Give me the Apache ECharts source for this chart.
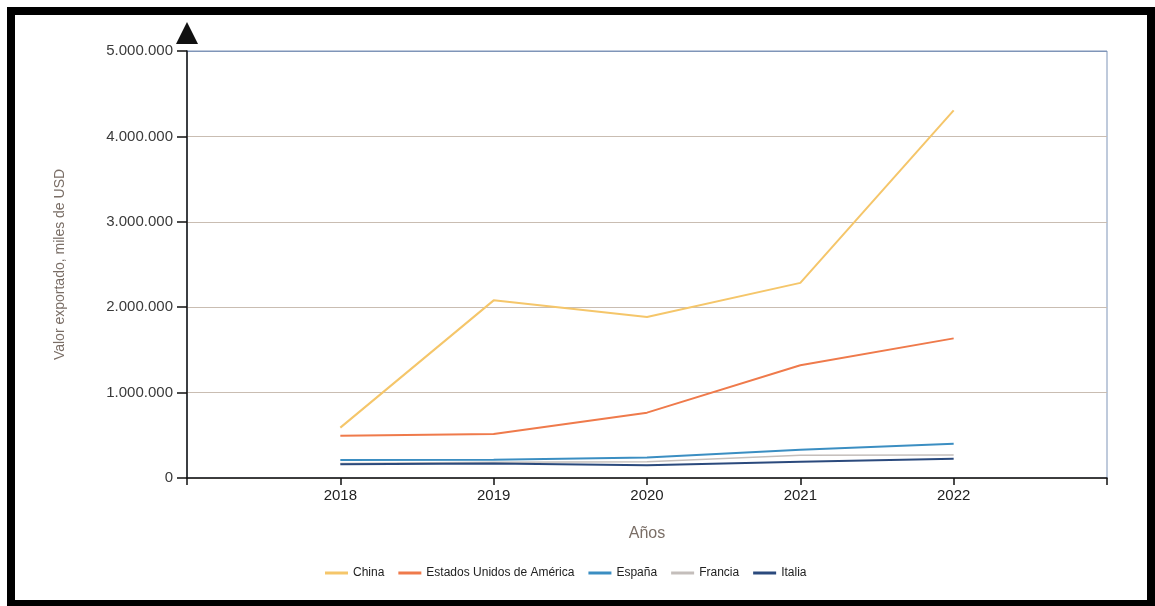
<!DOCTYPE html>
<html>
<head>
<meta charset="utf-8">
<script src="https://cdn.jsdelivr.net/npm/echarts@6/dist/echarts.min.js"></script>
<style>
html,body{margin:0;padding:0;background:#fff;}
#chart{width:1155px;height:606px;}
</style>
</head>
<body>
<div id="chart"></div>
<script>
const years = [2018, 2019, 2020, 2021, 2022];
const seriesNames = ['China', 'Estados Unidos de América', 'España', 'Francia', 'Italia'];
const china   = [590000, 2080000, 1885000, 2285000, 4305000];
const usa     = [495000, 515000, 765000, 1320000, 1635000];
const espana  = [210000, 215000, 240000, 330000, 400000];
const francia = [170000, 185000, 190000, 265000, 270000];
const italia  = [160000, 170000, 150000, 190000, 225000];
const yTicks = [0, 1000000, 2000000, 3000000, 4000000, 5000000];

const colors = ['#f5c66a', '#ef7a4b', '#3b8ec2', '#c4bebb', '#2b4a7d'];
const values = [china, usa, espana, francia, italia];

function fmt(v){
  return String(v).replace(/\B(?=(\d{3})+(?!\d))/g, '.');
}

const chart = echarts.init(document.getElementById('chart'), null, {renderer:'canvas'});
chart.setOption({
  backgroundColor: '#ffffff',
  animation: false,
  grid: {left: 187, right: 48, top: 51, bottom: 128, show: true, borderColor: '#7f95b8', borderWidth: 1, backgroundColor: 'transparent'},
  legend: {
    bottom: 22, left: 320,
    itemWidth: 23, itemHeight: 3, itemGap: 14,
    icon: 'rect',
    textStyle: {fontFamily: '"Liberation Sans", Arial, sans-serif', fontSize: 12, color: '#222'},
    data: seriesNames
  },
  xAxis: {
    type: 'value', min: 2017, max: 2023, interval: 1,
    name: 'Años', nameLocation: 'middle', nameGap: 48,
    nameTextStyle: {fontFamily: '"Liberation Sans", Arial, sans-serif', fontSize: 16, color: '#7a6e66'},
    axisLine: {show: true, lineStyle: {color: '#111', width: 1.5}},
    axisTick: {show: true, length: 7, lineStyle: {color: '#111', width: 1.5}},
    axisLabel: {
      fontFamily: '"Liberation Sans", Arial, sans-serif', fontSize: 15, color: '#222', margin: 10,
      formatter: function(v){ return years.indexOf(v) >= 0 ? String(v) : ''; }
    },
    splitLine: {show: false}
  },
  yAxis: {
    type: 'value', min: yTicks[0], max: yTicks[yTicks.length-1], interval: 1000000,
    name: 'Valor exportado, miles de USD', nameLocation: 'middle', nameGap: 120,
    nameTextStyle: {fontFamily: '"Liberation Sans", Arial, sans-serif', fontSize: 14, color: '#7a6e66'},
    axisLine: {show: true, symbol: ['none', 'triangle'], symbolSize: [22, 22], symbolOffset: [0, 18], lineStyle: {color: '#111', width: 1.5}},
    axisTick: {show: true, length: 10, lineStyle: {color: '#111', width: 1.5}},
    axisLabel: {fontFamily: '"Liberation Sans", Arial, sans-serif', fontSize: 15, color: '#3a3a3a', margin: 14, formatter: fmt},
    splitLine: {show: true, lineStyle: {color: ['#c9bdb2', '#c9bdb2', '#c9bdb2', '#c9bdb2', '#c9bdb2', '#7f95b8'], width: 1}}
  },
  series: values.map(function(vals, i){
    return {
      name: seriesNames[i], type: 'line', showSymbol: false, symbol: 'none',
      color: colors[i],
      lineStyle: {width: i === 3 ? 1.5 : 2, color: colors[i]},
      data: years.map(function(y, j){ return [y, vals[j]]; })
    };
  }),
  graphic: [
    {type: 'rect', shape: {x: 7, y: 7, width: 1148, height: 8}, style: {fill: '#000'}, z: 100},
    {type: 'rect', shape: {x: 7, y: 7, width: 8, height: 599}, style: {fill: '#000'}, z: 100},
    {type: 'rect', shape: {x: 1147, y: 7, width: 8, height: 599}, style: {fill: '#000'}, z: 100},
    {type: 'rect', shape: {x: 7, y: 600, width: 1148, height: 6}, style: {fill: '#000'}, z: 100}
  ]
});
</script>
</body>
</html>
